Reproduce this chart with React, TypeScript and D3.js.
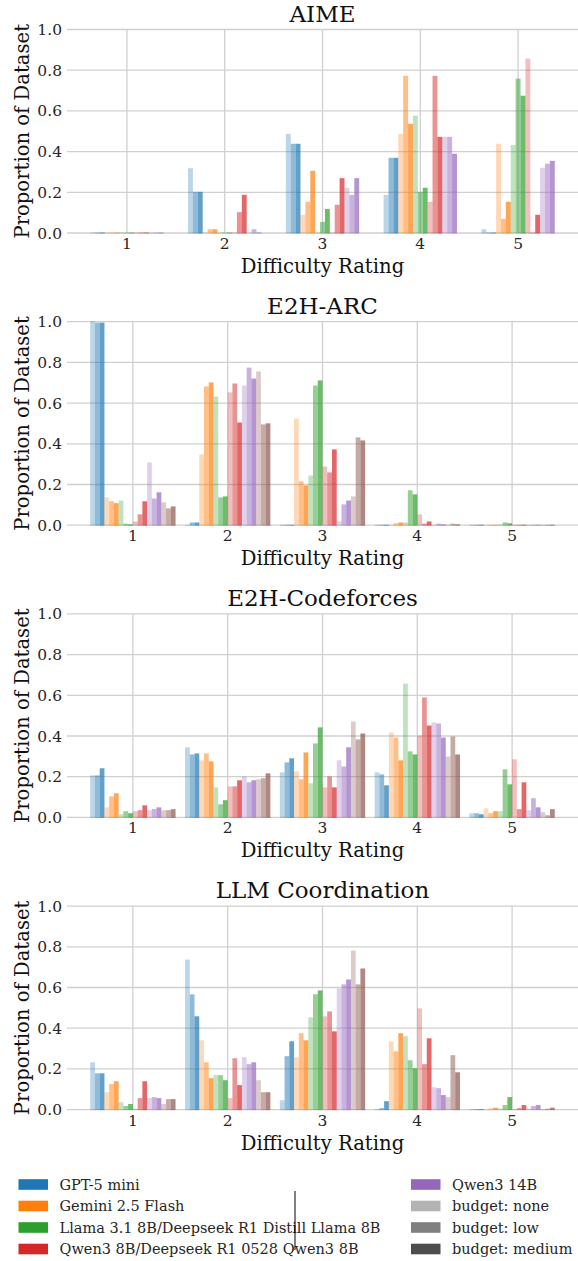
import React from "react";
import { scaleLinear } from "d3";

// difficulty ratings on the x axis
const ratings = [1, 2, 3, 4, 5];
const yTicks = [0, 0.2, 0.4, 0.6, 0.8, 1.0];

const models = [
  "GPT-5 mini",
  "Gemini 2.5 Flash",
  "Llama 3.1 8B/Deepseek R1 Distill Llama 8B",
  "Qwen3 8B/Deepseek R1 0528 Qwen3 8B",
  "Qwen3 14B",
  "Qwen3 32B",
];
const modelColors = ["#1f77b4", "#ff7f0e", "#2ca02c", "#d62728", "#9467bd", "#8c564b"];
const budgets = ["none", "low", "medium"];
const budgetAlpha = [0.3, 0.5, 0.7];

// one row per rating; values ordered model by model, budget none/low/medium
const aime = [
  [0, 0, 0, 0, 0, 0, 0, 0, 0, 0, 0, 0, 0, 0, 0],
  [0.316, 0.2, 0.2, 0, 0.016, 0.016, 0, 0, 0, 0, 0.1, 0.185, 0, 0.016, 0],
  [0.485, 0.436, 0.436, 0.087, 0.151, 0.303, 0, 0.052, 0.116, 0, 0.136, 0.267, 0.22, 0.185, 0.267],
  [0.185, 0.367, 0.367, 0.485, 0.77, 0.534, 0.574, 0.2, 0.22, 0.151, 0.77, 0.47, 0.47, 0.47, 0.387],
  [0.016, 0, 0, 0.436, 0.067, 0.151, 0.43, 0.756, 0.672, 0.854, 0, 0.087, 0.318, 0.338, 0.352],
];

const e2hArc = [
  [1.0, 0.993, 0.993, 0.134, 0.116, 0.106, 0.119, 0.005, 0.002, 0.016, 0.051, 0.115, 0.306, 0.129, 0.159, 0.11, 0.08, 0.09],
  [0, 0.011, 0.011, 0.345, 0.679, 0.699, 0.63, 0.134, 0.139, 0.65, 0.694, 0.502, 0.684, 0.772, 0.718, 0.753, 0.493, 0.498],
  [0, 0, 0, 0.522, 0.213, 0.193, 0.242, 0.684, 0.709, 0.286, 0.257, 0.37, 0.016, 0.1, 0.119, 0.139, 0.429, 0.414],
  [0, 0, 0, 0, 0.007, 0.011, 0.011, 0.169, 0.149, 0.051, 0.005, 0.016, 0, 0.005, 0.002, 0, 0.005, 0.002],
  [0, 0, 0, 0, 0, 0, 0.002, 0.011, 0.007, 0, 0, 0, 0, 0, 0, 0, 0, 0],
];

const e2hCodeforces = [
  [0.204, 0.204, 0.239, 0.047, 0.101, 0.116, 0.013, 0.028, 0.018, 0.028, 0.033, 0.057, 0.033, 0.039, 0.047, 0.033, 0.033, 0.038],
  [0.342, 0.307, 0.312, 0.278, 0.312, 0.273, 0.145, 0.062, 0.082, 0.15, 0.15, 0.18, 0.199, 0.17, 0.18, 0.185, 0.19, 0.214],
  [0.219, 0.268, 0.288, 0.224, 0.185, 0.317, 0.165, 0.361, 0.44, 0.145, 0.199, 0.145, 0.278, 0.248, 0.342, 0.469, 0.381, 0.41],
  [0.219, 0.209, 0.155, 0.415, 0.39, 0.278, 0.655, 0.322, 0.307, 0.4, 0.587, 0.449, 0.464, 0.459, 0.39, 0.297, 0.395, 0.307],
  [0.018, 0.018, 0.013, 0.042, 0.018, 0.028, 0.028, 0.234, 0.16, 0.283, 0.038, 0.17, 0.033, 0.092, 0.047, 0.023, 0.008, 0.038],
];

const llmCoordination = [
  [0.23, 0.176, 0.176, 0.083, 0.123, 0.137, 0.034, 0.015, 0.025, 0.002, 0.054, 0.137, 0.054, 0.059, 0.054, 0.025, 0.049, 0.049],
  [0.735, 0.564, 0.456, 0.338, 0.23, 0.152, 0.167, 0.167, 0.142, 0.054, 0.25, 0.118, 0.255, 0.221, 0.23, 0.142, 0.083, 0.083],
  [0.044, 0.26, 0.333, 0.255, 0.373, 0.338, 0.451, 0.564, 0.583, 0.456, 0.48, 0.382, 0.593, 0.613, 0.637, 0.779, 0.613, 0.691],
  [0, 0.005, 0.039, 0.333, 0.284, 0.373, 0.358, 0.24, 0.201, 0.495, 0.221, 0.348, 0.108, 0.103, 0.069, 0.059, 0.265, 0.181],
  [0, 0, 0, 0, 0.003, 0.007, 0.003, 0.02, 0.059, 0, 0.005, 0.02, 0.002, 0.015, 0.02, 0, 0.002, 0.007],
];

const panels = [
  { title: "AIME", rows: aime },
  { title: "E2H-ARC", rows: e2hArc },
  { title: "E2H-Codeforces", rows: e2hCodeforces },
  { title: "LLM Coordination", rows: llmCoordination },
];

const legendLeft = models.slice(0, 4);
const legendRight = [models[4]];

const W = 578;
const H = 1261;
const FONT = "DejaVu Serif, Liberation Serif, serif";
const TEXT = "#262626";
const GRID = "#d0d0d0";
const BAR_W = 0.05;

const left = 67;
const right = 578;
const firstTop = 29.5;
const panelStep = 292.2;
const plotH = 203.5;

function Panel({ title, rows, top }) {
  const n = rows[0].length;
  const groupW = n * BAR_W;
  const lo = 1 - groupW / 2;
  const hi = 5 + groupW / 2;
  const pad = (hi - lo) * 0.05;
  const x = scaleLinear().domain([lo - pad, hi + pad]).range([left, right]);
  const y = scaleLinear().domain([0, 1]).range([top + plotH, top]);
  const bw = x(BAR_W) - x(0);

  return (
    <g>
      <text x={(left + right) / 2} y={top - 8} textAnchor="middle" fontSize={23} fill="#111" style={{ fontFamily: FONT }}>
        {title}
      </text>
      {yTicks.map((t) => (
        <line key={"h" + t} x1={left} x2={right} y1={y(t)} y2={y(t)} stroke={GRID} strokeWidth={1.3} />
      ))}
      {ratings.map((r) => (
        <line key={"v" + r} x1={x(r)} x2={x(r)} y1={y(1)} y2={y(0)} stroke={GRID} strokeWidth={1.3} />
      ))}
      {rows.map((vals, ri) =>
        vals.map((v, j) => {
          const m = Math.floor(j / 3);
          const b = j % 3;
          const x0 = x(ratings[ri] - groupW / 2 + j * BAR_W);
          return (
            <rect
              key={ri + "-" + j}
              x={x0}
              width={bw}
              y={y(v) - 0.5}
              height={y(0) - y(v) + 1}
              fill={modelColors[m]}
              fillOpacity={budgetAlpha[b]}
            />
          );
        })
      )}
      {yTicks.map((t) => (
        <text key={"yl" + t} x={left - 5} y={y(t)} dy="0.36em" textAnchor="end" fontSize={15.5} fill={TEXT} style={{ fontFamily: FONT }}>
          {t.toFixed(1)}
        </text>
      ))}
      {ratings.map((r) => (
        <text key={"xl" + r} x={x(r)} y={y(0) + 16} textAnchor="middle" fontSize={15.5} fill={TEXT} style={{ fontFamily: FONT }}>
          {r}
        </text>
      ))}
      <text x={(left + right) / 2} y={y(0) + 40} textAnchor="middle" fontSize={19.6} fill="#111" style={{ fontFamily: FONT }}>
        Difficulty Rating
      </text>
      <text
        transform={`translate(28.5,${top + plotH / 2}) rotate(-90)`}
        textAnchor="middle"
        fontSize={19.6}
        fill="#111"
        style={{ fontFamily: FONT }}
      >
        Proportion of Dataset
      </text>
    </g>
  );
}

function LegendRow({ x, y, color, label }) {
  return (
    <g>
      <rect x={x} y={y - 5.3} width={29.5} height={10.6} fill={color} />
      <text x={x + 41} y={y} dy="0.36em" fontSize={14.5} fill={TEXT} style={{ fontFamily: FONT }}>
        {label}
      </text>
    </g>
  );
}

export default function App() {
  const rowY = [1184.5, 1206, 1227.5, 1249];
  const budgetColors = budgetAlpha.map((a) => `rgb(${Math.round(255 * (1 - a))},${Math.round(255 * (1 - a))},${Math.round(255 * (1 - a))})`);
  const rightItems = [
    ...legendRight.map((m) => ({ label: m, color: modelColors[models.indexOf(m)] })),
    ...budgets.map((b, i) => ({ label: "budget: " + b, color: budgetColors[i] })),
  ];
  return (
    <svg width={W} height={H} style={{ position: "absolute", left: 0, top: 0, background: "#fff" }}>
      {panels.map((p, i) => (
        <Panel key={p.title} title={p.title} rows={p.rows} top={firstTop + i * panelStep} />
      ))}
      {legendLeft.map((m, i) => (
        <LegendRow key={m} x={18.5} y={rowY[i]} color={modelColors[i]} label={m} />
      ))}
      {rightItems.map((it, i) => (
        <LegendRow key={it.label} x={411} y={rowY[i]} color={it.color} label={it.label} />
      ))}
      <line x1={295} x2={295} y1={1191} y2={1250} stroke="#000" strokeWidth={1} />
    </svg>
  );
}
